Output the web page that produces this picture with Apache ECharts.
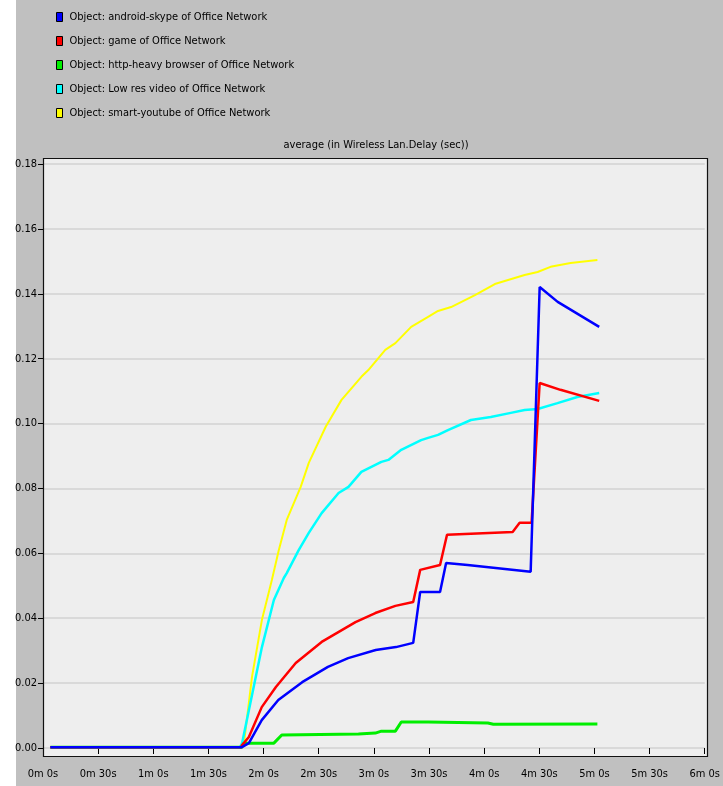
<!DOCTYPE html>
<html>
<head>
<meta charset="utf-8">
<script src="https://cdn.jsdelivr.net/npm/echarts@6/dist/echarts.min.js"></script>
<style>
  html, body { margin: 0; padding: 0; background: #ffffff; }
  #chart { width: 723px; height: 786px; }
</style>
</head>
<body>
<div id="chart"></div>
<script>
// Average Wireless LAN delay (sec) per application, sampled over simulation time (seconds).
const seriesNames = [
  'Object: android-skype of Office Network',
  'Object: game of Office Network',
  'Object: http-heavy browser of Office Network',
  'Object: Low res video of Office Network',
  'Object: smart-youtube of Office Network'
];

// [time (s), delay (sec)]
const skypeDelay = [
  [4, 0.0002], [108, 0.0002], [112, 0.0015], [119, 0.0086], [128, 0.0148],
  [141, 0.0203], [155, 0.0250], [166, 0.0277], [181, 0.0302], [192, 0.0311],
  [201.4, 0.0324], [205.2, 0.0481], [216, 0.0481], [219.3, 0.0570], [231, 0.0564],
  [265.3, 0.0543], [270.2, 0.1421], [280, 0.1375], [302.6, 0.1298]
];
const gameDelay = [
  [4, 0.0002], [107.7, 0.0002], [108.3, 0.0009], [112, 0.0034], [119, 0.0126],
  [126.7, 0.0188], [137.5, 0.0262], [151.6, 0.0327], [170, 0.0388], [180.8, 0.0416],
  [191.7, 0.0438], [201.4, 0.0450], [205.2, 0.0549], [216, 0.0564], [219.8, 0.0657],
  [255.5, 0.0666], [259.3, 0.0694], [265.8, 0.0694], [270.2, 0.1125], [281.5, 0.1104],
  [302.6, 0.1070]
];
const httpDelay = [
  [4, 0.0002], [108, 0.0002], [109.4, 0.0015], [125.6, 0.0015], [129.9, 0.0040],
  [171.6, 0.0043], [180.8, 0.0046], [184.1, 0.0052], [191.7, 0.0052], [194.9, 0.0080],
  [209.5, 0.0080], [242, 0.0077], [245, 0.0073], [301.6, 0.0074]
];
const videoDelay = [
  [4, 0.0002], [107.2, 0.0002], [108.3, 0.0015], [119.1, 0.0311], [125.6, 0.0456],
  [131, 0.0524], [132.6, 0.0539], [139.1, 0.0610], [144.6, 0.0663], [151.6, 0.0724],
  [160.8, 0.0786], [166.2, 0.0805], [173.2, 0.0851], [184.1, 0.0882], [187.9, 0.0888],
  [194.9, 0.0919], [205.7, 0.0949], [209.5, 0.0956], [214.9, 0.0965], [220.3, 0.0980],
  [232.8, 0.1011], [243.6, 0.1020], [254.5, 0.1033], [262, 0.1042], [269.1, 0.1045],
  [279.9, 0.1063], [290.7, 0.1082], [302.6, 0.1094]
];
const youtubeDelay = [
  [4, 0.0002], [108.3, 0.0002], [109.4, 0.0018], [113.7, 0.0219], [119.1, 0.0395],
  [121.8, 0.0456], [124.5, 0.0518], [128.3, 0.0610], [132.6, 0.0703], [140.2, 0.0805],
  [144.6, 0.0879], [153.8, 0.0990], [162.4, 0.1073], [173.2, 0.1144], [177, 0.1165],
  [186.2, 0.1227], [191.7, 0.1248], [200.3, 0.1298], [209.5, 0.1329], [214.9, 0.1347],
  [222, 0.1359], [235, 0.1396], [245.8, 0.1430], [262, 0.1458], [269.1, 0.1467],
  [276.1, 0.1483], [287, 0.1495], [301.6, 0.1504]
];

// Tick labels along the time axis, one every 30 s from 0 to 6 min.
const timeTickLabels = [
  '0m 0s', '0m 30s', '1m 0s', '1m 30s', '2m 0s', '2m 30s', '3m 0s',
  '3m 30s', '4m 0s', '4m 30s', '5m 0s', '5m 30s', '6m 0s'
];
const delayTickLabels = ['0.00', '0.02', '0.04', '0.06', '0.08', '0.10', '0.12', '0.14', '0.16', '0.18'];

const chartTitle = 'average (in Wireless Lan.Delay (sec))';

const seriesData = [skypeDelay, gameDelay, httpDelay, videoDelay, youtubeDelay];
const seriesColors = ['#0000ff', '#ff0000', '#00ee00', '#00ffff', '#ffff00'];
const seriesWidths = [2.5, 2.5, 3, 2.5, 2];

const FONT = "'DejaVu Sans Condensed', 'Liberation Sans Narrow', 'Arial Narrow', sans-serif";
const FONT_SIZE = 11;

const chart = echarts.init(document.getElementById('chart'), null, { renderer: 'canvas' });

chart.setOption({
  animation: false,
  backgroundColor: '#c0c0c0',
  textStyle: { fontFamily: FONT, color: '#000' },
  graphic: [
    // white margin strip on the left edge
    { type: 'rect', z: -20, shape: { x: 0, y: 0, width: 16, height: 786 }, style: { fill: '#ffffff' } },
    // plot panel background
    { type: 'rect', z: -10, shape: { x: 43, y: 159, width: 665, height: 598 }, style: { fill: '#eeeeee' } },
    // plot panel frame
    { type: 'rect', z: 100, shape: { x: 43.5, y: 158.5, width: 664, height: 598 },
      style: { fill: 'none', stroke: '#111', lineWidth: 1.2 } }
  ],
  title: {
    text: chartTitle,
    left: 376,
    top: 140,
    textAlign: 'center',
    padding: 0,
    textStyle: { fontFamily: FONT, fontSize: FONT_SIZE, fontWeight: 'normal', color: '#000' }
  },
  legend: {
    orient: 'vertical',
    left: 56,
    top: 10,
    padding: 0,
    itemGap: 10,
    itemWidth: 6,
    itemHeight: 9,
    icon: 'rect',
    data: seriesNames,
    itemStyle: { borderColor: '#000', borderWidth: 1 },
    textStyle: { fontFamily: FONT, fontSize: FONT_SIZE, color: '#000', lineHeight: 14, padding: [0, 0, 0, 2] }
  },
  grid: { left: 43, right: 15, top: 164, bottom: 38, containLabel: false },
  xAxis: {
    type: 'value',
    min: 0,
    max: 360,
    interval: 30,
    offset: 9,
    axisLine: { show: false },
    axisTick: { show: true, length: 6, lineStyle: { color: '#000', width: 1 } },
    splitLine: { show: false },
    axisLabel: {
      margin: 12,
      fontFamily: FONT,
      fontSize: FONT_SIZE,
      color: '#000',
      showMinLabel: true,
      showMaxLabel: true,
      formatter: v => timeTickLabels[Math.round(v / 30)]
    }
  },
  yAxis: {
    type: 'value',
    min: 0,
    max: 0.18,
    interval: 0.02,
    axisLine: { show: false },
    axisTick: { show: true, length: 5, lineStyle: { color: '#000', width: 1 } },
    splitLine: { show: true, lineStyle: { color: '#d2d2d2', width: 1.5 } },
    axisLabel: {
      margin: 6,
      fontFamily: FONT,
      fontSize: FONT_SIZE,
      color: '#000',
      formatter: v => delayTickLabels[Math.round(v / 0.02)]
    }
  },
  series: seriesNames.map((name, i) => ({
    name: name,
    type: 'line',
    data: seriesData[i],
    showSymbol: false,
    symbol: 'none',
    z: 10 - i,
    color: seriesColors[i],
    lineStyle: { color: seriesColors[i], width: seriesWidths[i] },
    itemStyle: { color: seriesColors[i] }
  }))
});
</script>
</body>
</html>
